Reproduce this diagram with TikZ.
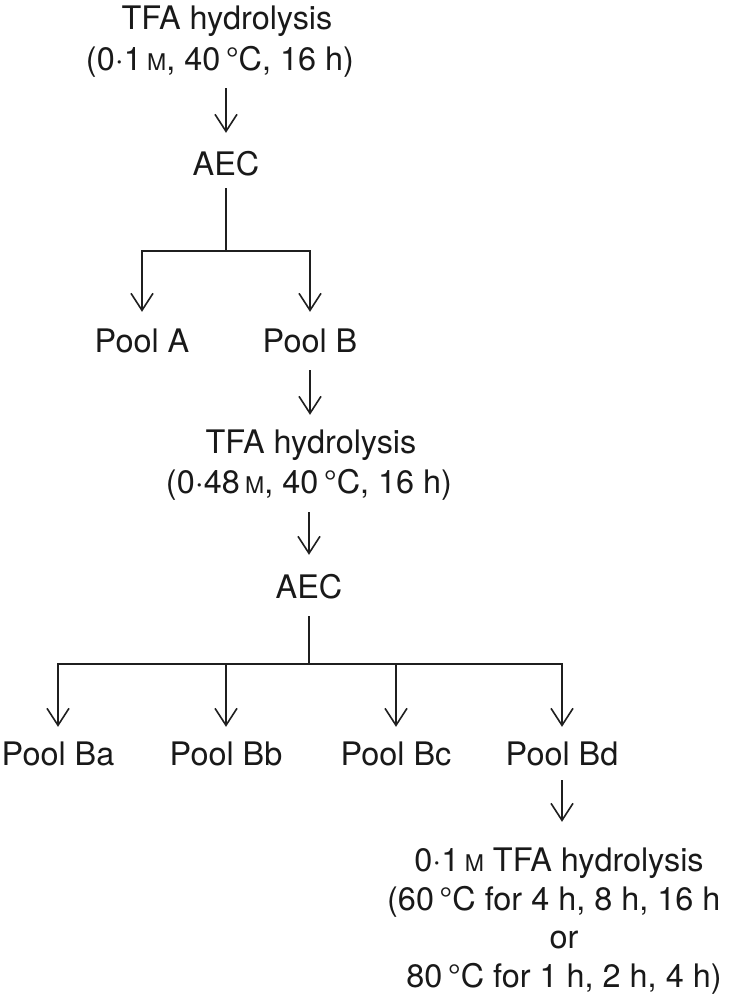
\documentclass[tikz,border=0pt]{standalone}
\usepackage{fontspec}
\setmainfont{TeX Gyre Heros}
\usetikzlibrary{arrows.meta}
\newcommand{\molM}{{\fontsize{23bp}{23bp}\selectfont M}}
\begin{document}
\begin{tikzpicture}[x=1bp,y=-1bp,
  lbl/.style={inner sep=0pt, anchor=base, text height=23bp, text depth=7bp,
    font=\fontsize{32.4bp}{39bp}\selectfont, text=black!90},
  conn/.style={line width=1.6bp, draw=black!88},
  arr/.style={conn, -{Straight Barb[length=17bp,width=22bp,line width=1.6bp]}},
]
\fill[white] (0,0) rectangle (733,998);
\useasboundingbox (0,0) rectangle (733,998);

% first stage
\node[lbl] (t1a) at (227,29) {TFA hydrolysis};
\node[lbl] (t1b) at (220,70) {(0·1\,\molM, 40\,°C, 16 h)};
\node[lbl] (aec1) at (226,175) {AEC};
\coordinate (j1) at (226,251);
\node[lbl] (pa) at (142,352) {Pool A};
\node[lbl] (pb) at (310,352) {Pool B};

% second stage
\node[lbl] (t2a) at (311,453) {TFA hydrolysis};
\node[lbl] (t2b) at (309,493) {(0·48\,\molM, 40\,°C, 16 h)};
\node[lbl] (aec2) at (309,598) {AEC};
\coordinate (j2) at (309,664);
\node[lbl] (pba) at (58,765) {Pool Ba};
\node[lbl] (pbb) at (226,765) {Pool Bb};
\node[lbl] (pbc) at (396,765) {Pool Bc};
\node[lbl] (pbd) at (562,765) {Pool Bd};

% third stage
\node[lbl] (h3a) at (559,871) {0·1\,\molM{} TFA hydrolysis};
\node[lbl, anchor=base west] (h3b) at (387,910) {(60\,°C for 4 h, 8 h, 16 h};
\node[lbl] (h3c) at (564,948) {or};
\node[lbl] (h3d) at (564,987) {80\,°C for 1 h, 2 h, 4 h)};

% connectors
\draw[arr, shorten <=11bp, shorten >=19bp] (t1b.south -| aec1) -- (aec1.north);
\draw[conn, shorten <=6bp] (aec1.south) -- (j1);
\draw[arr, shorten >=17bp] (j1) -| (pa.north);
\draw[arr, shorten >=17bp] (j1) -| (pb.north);
\draw[arr, shorten <=11bp, shorten >=15bp] (pb.south) -- (pb.south |- t2a.north);
\draw[arr, shorten <=12bp, shorten >=20bp] (t2b.south -| aec2) -- (aec2.north);
\draw[conn, shorten <=11bp] (aec2.south) -- (j2);
\draw[arr, shorten >=15bp] (j2) -| (pba.north);
\draw[arr, shorten >=15bp] (j2) -| (pbb.north);
\draw[arr, shorten >=15bp] (j2) -| (pbc.north);
\draw[arr, shorten >=15bp] (j2) -| (pbd.north);
\draw[arr, shorten <=8bp, shorten >=26bp] (pbd.south) -- (pbd.south |- h3a.north);
\end{tikzpicture}
\end{document}
